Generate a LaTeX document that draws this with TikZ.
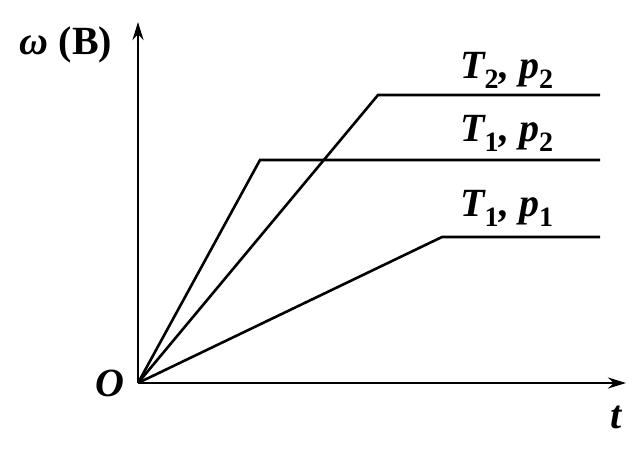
\documentclass[tikz,border=0pt]{standalone}
\usepackage{fontspec}
\setmainfont{Liberation Serif}
\usetikzlibrary{arrows.meta}
\begin{document}
\begin{tikzpicture}[x=1pt,y=-1pt,
  ln/.style={line width=2.6pt},
  ax/.style={line width=2.6pt,-{Stealth[length=18pt,width=11pt]}},
  lbl/.style={font=\fontsize{40}{42}\selectfont\bfseries, inner sep=0pt}]
\useasboundingbox (0,0) rectangle (640,452);
\coordinate (O) at (138,383);
\coordinate (ytop) at (138,22);
\coordinate (xend) at (626,383);
\draw[ax] (O) -- (ytop);
\draw[ax] (O) -- (xend);
\coordinate (a1) at (260,160); \coordinate (a2) at (600,160);
\coordinate (b1) at (378,95); \coordinate (b2) at (600,95);
\coordinate (c1) at (442,237); \coordinate (c2) at (600,237);
\draw[ln] (O) -- (a1) -- (a2);
\draw[ln] (O) -- (b1) -- (b2);
\draw[ln] (O) -- (c1) -- (c2);
\node[lbl] (yl) at (66,45) {{\itshape ω} (B)};
\node[lbl] (l1) at (507,70) {\itshape T\textsubscript{\upshape 2}, p\textsubscript{\upshape 2}};
\node[lbl] (l2) at (507,133) {\itshape T\textsubscript{\upshape 1}, p\textsubscript{\upshape 2}};
\node[lbl] (l3) at (507,208) {\itshape T\textsubscript{\upshape 1}, p\textsubscript{\upshape 1}};
\node[lbl] (ol) at (110,383) {\itshape O};
\node[lbl] (tl) at (616,417) {\itshape t};
\end{tikzpicture}
\end{document}
